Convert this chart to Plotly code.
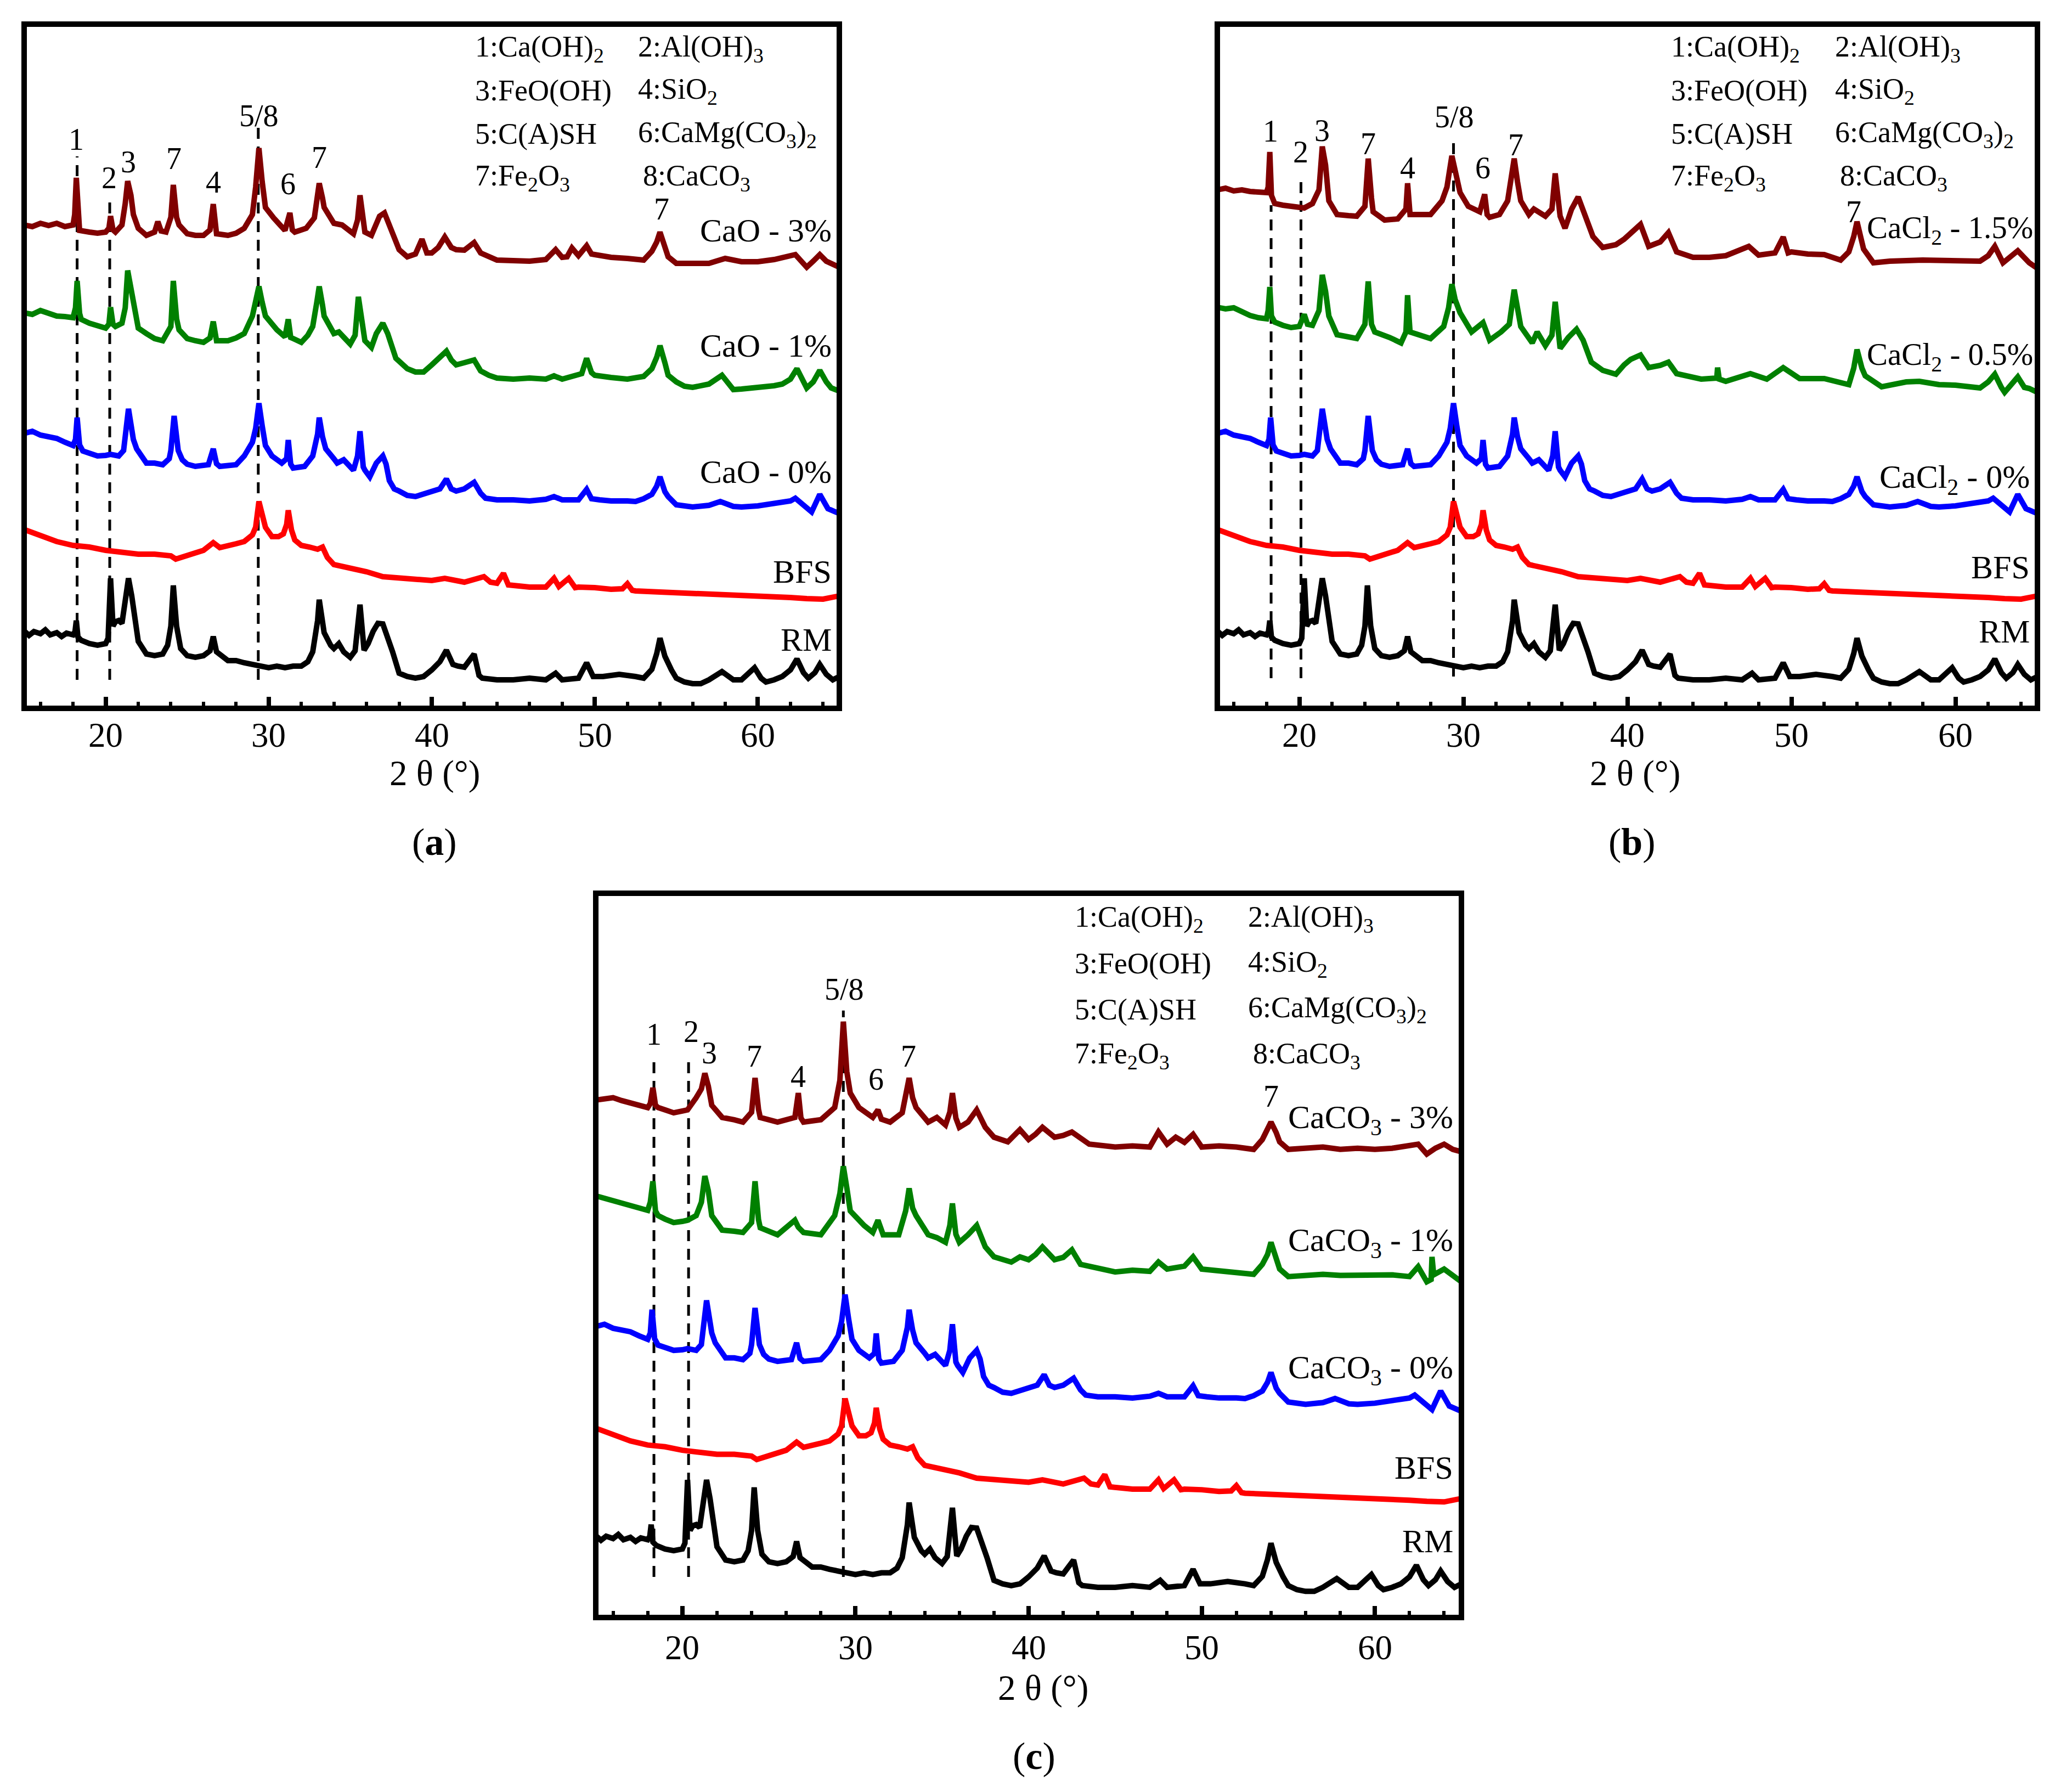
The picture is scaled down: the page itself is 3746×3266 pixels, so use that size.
import plotly.graph_objects as go

W, H = 3746, 3266

# 2θ (deg) / intensity (a.u., stacked as drawn)
RM = [(15.0, 141), (15.3, 133), (15.6, 140), (16.0, 136), (16.3, 143), (16.6, 134), (17.0, 138), (17.3, 131),
      (17.6, 137), (18.0, 134), (18.12, 140), (18.2, 160), (18.3, 130), (18.5, 124), (19.0, 118), (19.5, 115),
      (20.0, 118), (20.15, 128), (20.3, 237), (20.45, 150), (20.6, 158), (20.8, 160), (21.0, 155), (21.2, 190),
      (21.4, 237), (21.6, 205), (21.8, 160), (22.0, 122), (22.5, 99), (23.0, 96), (23.5, 99), (23.8, 115),
      (24.0, 150), (24.15, 224), (24.35, 150), (24.6, 109), (25.0, 96), (25.5, 93), (26.0, 96), (26.4, 105),
      (26.6, 131), (26.8, 103), (27.5, 87), (28.0, 87), (28.5, 83), (29.0, 80), (29.5, 77), (30.0, 74),
      (30.5, 77), (31.0, 74), (31.5, 77), (32.0, 77), (32.4, 85), (32.7, 103), (33.0, 160), (33.1, 198),
      (33.4, 138), (33.8, 115), (34.0, 109), (34.3, 118), (34.6, 103), (35.0, 93), (35.3, 105), (35.6, 189),
      (35.85, 106), (36.1, 118), (36.4, 140), (36.7, 155), (37.0, 154), (37.3, 130), (37.6, 103), (38.0, 64),
      (38.5, 58), (39.0, 55), (39.5, 58), (40.0, 70), (40.5, 85), (40.9, 106), (41.3, 80), (41.6, 77),
      (42.0, 75), (42.6, 99), (42.9, 60), (43.1, 55), (44.0, 52), (45.0, 52), (46.0, 55), (47.0, 52),
      (47.6, 64), (48.0, 52), (49.0, 55), (49.5, 83), (49.9, 58), (50.5, 58), (51.5, 62), (52.5, 58),
      (53.0, 55), (53.5, 71), (53.8, 100), (54.0, 128), (54.3, 95), (54.7, 70), (55.0, 55), (55.5, 48),
      (56.0, 45), (56.5, 45), (57.0, 52), (57.8, 67), (58.5, 52), (59.0, 52), (59.8, 74), (60.2, 55),
      (60.5, 48), (61.0, 52), (61.5, 58), (62.0, 70), (62.4, 90), (62.8, 65), (63.1, 55), (63.5, 65),
      (63.8, 80), (64.2, 62), (64.6, 52), (65.0, 58)]

BFS = [(15.0, 326), (16.0, 316), (17.0, 304), (18.0, 297), (19.0, 294), (20.0, 288), (21.0, 284), (22.0, 281),
       (23.0, 281), (24.0, 278), (24.3, 272), (25.0, 278), (26.0, 288), (26.6, 302), (27.0, 293), (28.0, 300),
       (28.5, 304), (29.0, 316), (29.2, 330), (29.4, 377), (29.6, 350), (29.8, 330), (30.2, 313), (30.6, 313),
       (30.9, 318), (31.1, 335), (31.2, 361), (31.4, 325), (31.6, 307), (32.0, 297), (32.5, 294), (33.0, 290),
       (33.3, 294), (33.6, 275), (34.0, 262), (35.0, 256), (36.0, 249), (37.0, 240), (38.0, 237), (39.0, 236),
       (40.0, 233), (40.8, 237), (41.5, 232), (42.0, 230), (43.2, 240), (43.6, 230), (44.0, 228), (44.4, 246),
       (44.7, 225), (45.0, 224), (46.0, 221), (47.0, 221), (47.5, 237), (47.8, 222), (48.4, 237), (48.8, 220),
       (49.0, 221), (50.0, 220), (51.0, 217), (51.7, 218), (52.0, 227), (52.3, 215), (52.5, 214), (54.0, 212),
       (55.0, 211), (57.0, 208), (60.0, 205), (62.0, 202), (63.0, 200), (64.0, 199), (65.0, 205)]

BLANK = [(15.0, 501), (15.5, 505), (16.0, 498), (16.5, 495), (17.0, 492), (17.5, 485), (18.0, 479), (18.15, 490),
         (18.25, 530), (18.4, 480), (18.6, 469), (19.0, 465), (19.5, 460), (20.0, 461), (20.3, 463), (20.8, 460),
         (21.1, 470), (21.4, 546), (21.7, 490), (21.9, 473), (22.5, 447), (23.0, 447), (23.5, 444), (23.9, 455),
         (24.0, 470), (24.2, 533), (24.45, 470), (24.7, 453), (25.0, 445), (25.5, 441), (26.0, 443), (26.3, 444),
         (26.6, 473), (26.8, 446), (27.0, 441), (28.0, 444), (28.5, 460), (29.0, 485), (29.2, 510), (29.4, 556),
         (29.6, 515), (29.8, 479), (30.2, 460), (30.8, 447), (31.1, 455), (31.2, 489), (31.35, 445), (31.5, 438),
         (32.2, 441), (32.7, 460), (33.0, 500), (33.1, 530), (33.3, 495), (33.5, 473), (34.0, 455), (34.2, 447),
         (34.6, 453), (35.0, 440), (35.2, 434), (35.45, 460), (35.6, 505), (35.8, 440), (35.9, 434), (36.2, 422),
         (36.6, 447), (37.0, 460), (37.2, 445), (37.4, 415), (37.7, 400), (38.0, 396), (38.5, 388), (39.0, 386),
         (39.5, 390), (40.0, 396), (40.5, 400), (40.9, 418), (41.2, 400), (41.5, 396), (42.0, 400), (42.6, 412),
         (43.0, 392), (43.3, 383), (44.0, 380), (45.0, 380), (46.0, 378), (47.0, 381), (47.5, 386), (48.0, 380),
         (49.0, 380), (49.5, 399), (49.8, 382), (50.3, 380), (51.0, 378), (52.0, 378), (52.5, 377), (53.0, 382),
         (53.5, 390), (53.8, 405), (54.0, 422), (54.3, 395), (54.5, 386), (55.0, 371), (56.0, 367), (57.0, 370),
         (57.7, 377), (58.5, 368), (59.0, 367), (60.0, 369), (61.0, 374), (62.0, 378), (62.3, 383), (62.7, 374),
         (63.0, 365), (63.3, 358), (63.8, 390), (64.3, 364), (65.0, 355)]

CAO_1 = [(15.0, 721), (15.5, 718), (16.0, 725), (16.5, 720), (17.0, 715), (17.5, 714), (18.0, 712), (18.15, 730),
         (18.25, 779), (18.4, 720), (18.5, 709), (19.0, 702), (19.5, 698), (20.0, 693), (20.2, 700), (20.3, 731),
         (20.45, 700), (20.6, 696), (21.0, 702), (21.2, 730), (21.35, 798), (21.6, 760), (21.8, 725), (22.0, 693),
         (22.5, 683), (23.0, 674), (23.5, 670), (23.9, 690), (24.0, 696), (24.15, 779), (24.35, 710), (24.5, 690),
         (25.0, 674), (25.5, 670), (26.0, 667), (26.4, 675), (26.6, 705), (26.8, 670), (27.5, 670), (28.0, 675),
         (28.5, 683), (29.0, 715), (29.2, 740), (29.4, 769), (29.6, 740), (29.8, 715), (30.5, 690), (31.0, 677),
         (31.2, 709), (31.35, 676), (31.5, 674), (32.0, 667), (32.4, 680), (32.7, 696), (32.95, 740), (33.1, 769),
         (33.3, 735), (33.4, 715), (34.0, 683), (34.3, 686), (35.0, 664), (35.3, 680), (35.5, 750), (35.75, 690),
         (35.9, 670), (36.3, 658), (36.6, 683), (37.0, 702), (37.3, 683), (37.8, 638), (38.5, 619), (39.0, 613),
         (39.5, 613), (40.0, 626), (40.5, 640), (40.9, 651), (41.2, 635), (41.5, 626), (42.0, 630), (42.6, 635),
         (43.0, 615), (43.5, 607), (44.0, 602), (45.0, 600), (46.0, 602), (47.0, 600), (47.5, 606), (48.0, 600),
         (49.2, 610), (49.5, 638), (49.8, 612), (50.0, 607), (51.0, 603), (52.0, 600), (53.0, 605), (53.5, 619),
         (53.8, 640), (54.0, 661), (54.3, 630), (54.5, 607), (55.0, 595), (55.5, 587), (56.0, 585), (57.0, 591),
         (57.8, 607), (58.5, 581), (59.0, 582), (60.0, 584), (61.0, 588), (61.5, 591), (62.0, 600), (62.4, 619),
         (62.8, 595), (63.0, 584), (63.4, 595), (63.8, 616), (64.2, 595), (64.5, 584), (65.0, 578)]

CAO_3 = [(15.0, 881), (15.5, 878), (16.0, 884), (16.5, 880), (17.0, 884), (17.5, 878), (18.0, 881), (18.1, 900),
         (18.2, 967), (18.3, 890), (18.4, 871), (19.0, 868), (19.5, 866), (20.0, 868), (20.2, 875), (20.3, 897),
         (20.45, 872), (20.6, 868), (21.0, 881), (21.2, 920), (21.35, 961), (21.55, 935), (21.7, 900), (22.0, 875),
         (22.5, 862), (23.0, 868), (23.2, 887), (23.4, 870), (23.7, 868), (24.0, 895), (24.15, 954), (24.35, 895),
         (24.5, 881), (25.0, 865), (25.5, 862), (26.0, 862), (26.4, 872), (26.6, 919), (26.8, 865), (27.5, 862),
         (28.0, 866), (28.5, 875), (29.0, 900), (29.2, 950), (29.4, 1021), (29.6, 960), (29.8, 913), (30.3, 894),
         (31.0, 871), (31.3, 903), (31.45, 872), (31.6, 868), (32.3, 875), (32.8, 894), (33.0, 930), (33.1, 957),
         (33.3, 930), (33.4, 913), (34.0, 884), (34.5, 881), (35.2, 865), (35.45, 890), (35.6, 935), (35.8, 880),
         (35.9, 868), (36.3, 862), (36.8, 897), (37.1, 903), (37.5, 875), (38.0, 836), (38.5, 823), (39.0, 828),
         (39.4, 855), (39.7, 830), (40.0, 830), (40.4, 840), (40.8, 859), (41.2, 840), (41.5, 836), (42.0, 835),
         (42.6, 849), (43.0, 830), (44.0, 817), (45.0, 817), (46.0, 815), (47.0, 818), (47.6, 836), (48.0, 822),
         (48.3, 823), (48.6, 839), (49.0, 825), (49.5, 843), (49.8, 828), (50.0, 827), (51.0, 822), (52.0, 820),
         (53.0, 817), (53.5, 833), (53.8, 850), (54.0, 868), (54.3, 845), (54.5, 823), (55.0, 811), (56.0, 810),
         (57.0, 811), (58.0, 820), (59.0, 814), (60.0, 814), (61.0, 818), (62.3, 827), (62.7, 815), (63.0, 804),
         (63.4, 815), (63.8, 827), (64.2, 815), (64.5, 811), (65.0, 804)]

CACL2_05 = [(15.0, 731), (15.5, 728), (16.0, 730), (16.5, 722), (17.0, 716), (17.5, 712), (18.0, 710), (18.1, 725),
            (18.2, 768), (18.3, 715), (18.5, 704), (19.0, 698), (19.5, 694), (20.0, 696), (20.3, 718), (20.5, 700),
            (20.8, 698), (21.2, 725), (21.4, 790), (21.6, 760), (21.8, 715), (22.3, 681), (23.0, 676), (23.5, 674),
            (24.0, 700), (24.2, 778), (24.4, 700), (24.6, 686), (25.5, 676), (26.2, 666), (26.5, 686), (26.6, 753),
            (26.75, 686), (28.0, 674), (28.8, 696), (29.1, 730), (29.3, 773), (29.5, 745), (29.8, 721), (30.5, 686),
            (31.2, 703), (31.6, 671), (32.3, 686), (32.8, 700), (33.1, 763), (33.3, 725), (33.5, 696), (34.2, 666),
            (34.5, 686), (35.0, 661), (35.4, 680), (35.6, 741), (35.8, 675), (35.9, 656), (36.4, 676), (36.9, 691),
            (37.3, 671), (37.8, 631), (38.5, 616), (39.3, 609), (39.8, 626), (40.2, 636), (40.8, 644), (41.3, 621),
            (42.0, 625), (42.5, 631), (43.0, 610), (43.5, 606), (44.5, 600), (45.45, 602), (45.5, 621), (45.6, 600),
            (46.0, 596), (47.5, 610), (48.5, 600), (49.5, 621), (50.5, 601), (52.0, 601), (53.0, 592), (53.5, 590),
            (53.8, 620), (54.0, 654), (54.3, 620), (54.5, 606), (55.5, 586), (57.0, 595), (57.8, 596), (59.0, 590),
            (60.0, 589), (61.5, 584), (62.0, 595), (62.4, 609), (62.8, 585), (63.0, 576), (63.4, 590), (63.8, 604),
            (64.2, 585), (64.5, 583), (65.0, 576)]

CACL2_15 = [(15.0, 945), (15.5, 948), (16.0, 943), (16.5, 945), (17.0, 942), (17.5, 940), (18.0, 940), (18.1, 950),
            (18.2, 1014), (18.3, 935), (18.5, 920), (19.0, 917), (19.5, 915), (20.0, 913), (20.3, 912), (20.8, 920),
            (21.2, 945), (21.4, 1024), (21.6, 990), (21.8, 925), (22.3, 900), (23.0, 898), (23.5, 897), (24.0, 915),
            (24.2, 1002), (24.4, 930), (24.5, 905), (25.2, 890), (26.0, 892), (26.5, 910), (26.6, 957), (26.75, 900),
            (28.0, 900), (28.7, 925), (29.0, 950), (29.3, 1007), (29.5, 980), (29.8, 940), (30.3, 915), (31.0, 905),
            (31.3, 937), (31.45, 900), (31.6, 895), (32.2, 900), (32.7, 925), (32.95, 970), (33.1, 1002), (33.3, 960),
            (33.5, 925), (34.0, 900), (34.3, 910), (35.0, 897), (35.4, 910), (35.6, 975), (35.8, 910), (35.9, 897),
            (36.2, 875), (36.6, 910), (37.0, 932), (37.4, 900), (37.9, 860), (38.5, 840), (39.3, 845), (39.8, 855),
            (40.2, 865), (40.8, 882), (41.3, 842), (42.0, 850), (42.5, 867), (43.0, 832), (44.0, 822), (45.0, 822),
            (46.0, 825), (47.4, 842), (48.0, 826), (49.0, 830), (49.5, 859), (49.8, 830), (50.0, 832), (51.0, 828),
            (52.0, 827), (53.0, 817), (53.5, 832), (53.8, 860), (54.0, 887), (54.3, 850), (54.4, 837), (55.0, 812),
            (56.0, 815), (58.0, 817), (60.0, 815), (61.5, 815), (62.0, 825), (62.4, 842), (62.9, 812), (63.4, 825),
            (63.8, 834), (64.5, 812), (65.0, 802)]

CACO3_1 = [(15.0, 726), (15.5, 722), (16.0, 718), (16.5, 714), (17.0, 709), (17.5, 706), (18.0, 701), (18.15, 715),
           (18.3, 751), (18.45, 700), (18.6, 692), (19.0, 686), (19.5, 680), (20.0, 682), (20.3, 684), (20.8, 692),
           (21.1, 715), (21.3, 760), (21.5, 735), (21.7, 692), (22.3, 667), (23.0, 665), (23.5, 663), (24.0, 680),
           (24.2, 751), (24.4, 685), (24.5, 671), (25.5, 659), (26.5, 684), (26.7, 672), (27.0, 663), (28.0, 659),
           (28.8, 692), (29.1, 730), (29.3, 777), (29.5, 740), (29.7, 700), (30.5, 675), (31.0, 663), (31.3, 684),
           (31.6, 659), (32.5, 659), (32.9, 700), (33.1, 739), (33.3, 705), (33.5, 692), (34.2, 659), (34.7, 654),
           (35.2, 646), (35.45, 675), (35.6, 713), (35.8, 660), (36.0, 646), (36.5, 659), (37.0, 675), (37.5, 638),
           (38.0, 621), (39.0, 612), (39.5, 621), (40.0, 616), (40.4, 625), (40.8, 638), (41.5, 616), (42.0, 620),
           (42.5, 633), (43.0, 608), (45.0, 595), (46.0, 598), (47.0, 596), (47.5, 612), (48.0, 600), (49.0, 605),
           (49.5, 621), (50.0, 600), (51.0, 597), (52.0, 595), (53.0, 591), (53.5, 608), (53.8, 625), (54.0, 646),
           (54.3, 620), (54.5, 600), (55.0, 587), (56.0, 590), (57.0, 591), (58.0, 589), (60.0, 591), (61.0, 590),
           (62.0, 587), (62.5, 604), (63.0, 578), (63.25, 582), (63.3, 621), (63.4, 590), (64.0, 600), (64.5, 590),
           (65.0, 578)]

CACO3_3 = [(15.0, 891), (15.5, 893), (16.0, 895), (16.5, 890), (17.0, 886), (17.5, 884), (18.0, 878), (18.15, 885),
           (18.3, 912), (18.45, 882), (18.6, 878), (19.0, 874), (19.5, 869), (20.0, 872), (20.3, 874), (20.8, 895),
           (21.1, 910), (21.3, 937), (21.5, 915), (21.7, 882), (22.3, 861), (23.0, 857), (23.5, 853), (24.0, 870),
           (24.2, 929), (24.4, 875), (24.5, 861), (25.5, 853), (26.5, 861), (26.7, 903), (26.85, 860), (27.0, 853),
           (28.0, 857), (28.8, 878), (29.1, 925), (29.3, 1026), (29.5, 940), (29.7, 903), (30.2, 878), (31.0, 861),
           (31.3, 874), (31.5, 858), (32.0, 853), (32.7, 869), (32.95, 905), (33.1, 929), (33.3, 895), (33.5, 878),
           (34.2, 853), (34.7, 861), (35.2, 848), (35.45, 870), (35.6, 903), (35.8, 860), (36.0, 844), (36.5, 853),
           (37.0, 874), (37.5, 844), (38.0, 827), (38.8, 819), (39.5, 840), (40.0, 823), (40.4, 832), (40.8, 844),
           (41.5, 827), (42.0, 830), (42.5, 836), (43.5, 815), (45.0, 810), (46.0, 812), (47.0, 810), (47.5, 836),
           (48.0, 815), (48.5, 827), (49.0, 818), (49.5, 832), (50.0, 810), (51.0, 812), (52.0, 810), (53.0, 806),
           (53.5, 823), (53.8, 840), (54.0, 853), (54.3, 835), (54.5, 819), (55.0, 806), (56.0, 808), (57.0, 810),
           (58.0, 806), (59.0, 808), (60.0, 806), (61.0, 808), (62.5, 815), (63.0, 798), (63.5, 808), (64.0, 815),
           (64.5, 806), (65.0, 802)]

TICKS = [20, 30, 40, 50, 60]

PHASES = [("1:Ca(OH)<sub>2</sub>", "2:Al(OH)<sub>3</sub>"),
          ("3:FeO(OH)", "4:SiO<sub>2</sub>"),
          ("5:C(A)SH", "6:CaMg(CO<sub>3</sub>)<sub>2</sub>"),
          ("7:Fe<sub>2</sub>O<sub>3</sub>", "8:CaCO<sub>3</sub>")]

PEAKS_A = [("1", 18.2, 1037), ("2", 20.2, 967), ("3", 21.4, 996), ("7", 24.2, 1002), ("4", 26.6, 959),
           ("5/8", 29.4, 1080), ("6", 31.2, 956), ("7", 33.1, 1004), ("7", 54.1, 910)]
PEAKS_B = [("1", 18.25, 1052), ("2", 20.1, 1014), ("3", 21.4, 1053), ("7", 24.2, 1029), ("4", 26.6, 985),
           ("5/8", 29.45, 1078), ("6", 31.2, 985), ("7", 33.2, 1027), ("7", 53.8, 905)]
PEAKS_C = [("1", 18.35, 1004), ("2", 20.5, 1009), ("3", 21.55, 972), ("7", 24.15, 966), ("4", 26.7, 931),
           ("5/8", 29.35, 1082), ("6", 31.2, 927), ("7", 33.05, 966), ("7", 54.0, 897)]

# reference lines: (2θ, top, bottom)
MARKS_A = [(18.25, 1006, 52), (20.25, 935, 52), (29.36, 1063, 52)]
MARKS_B = [(18.28, 917, 55), (20.1, 965, 55), (29.4, 1037, 58)]
MARKS_C = [(18.36, 958, 70), (20.36, 958, 70), (29.3, 1045, 70)]

NAMES_A = [("CaO - 3%", 871), ("CaO - 1%", 661), ("CaO - 0%", 431), ("BFS", 249), ("RM", 125)]
NAMES_B = [("CaCl<sub>2</sub> - 1.5%", 872), ("CaCl<sub>2</sub> - 0.5%", 641), ("CaCl<sub>2</sub> - 0%", 418),
           ("BFS", 257), ("RM", 140)]
NAMES_C = [("CaCO<sub>3</sub> - 3%", 857), ("CaCO<sub>3</sub> - 1%", 646), ("CaCO<sub>3</sub> - 0%", 427),
           ("BFS", 258), ("RM", 131)]

COLORS = ["#800000", "#008000", "#0000ff", "#ff0000", "#000000"]
FONT = "Times New Roman, Liberation Serif, serif"
YMAX = 1247

panels = [
    dict(box=(36, 36, 1522, 1283), curves=[CAO_3, CAO_1, BLANK, BFS, RM], names=NAMES_A, peaks=PEAKS_A,
         marks=MARKS_A, ticky=1332, title=(784, 1401), letter="a", letter_pos=(784, 1526)),
    dict(box=(2211, 36, 3706, 1283), curves=[CACL2_15, CACL2_05, BLANK, BFS, RM], names=NAMES_B, peaks=PEAKS_B,
         marks=MARKS_B, ticky=1332, title=(2972, 1401), letter="b", letter_pos=(2967, 1526)),
    dict(box=(1078, 1620, 2656, 2940), curves=[CACO3_3, CACO3_1, BLANK, BFS, RM], names=NAMES_C, peaks=PEAKS_C,
         marks=MARKS_C, ticky=2995, title=(1893, 3068), letter="c", letter_pos=(1877, 3192)),
]

fig = go.Figure()
annotations = []
shapes = []
layout = {}

for i, p in enumerate(panels):
    n = "" if i == 0 else str(i + 1)
    xa, ya = "x" + n, "y" + n
    x0, y0, x1, y1 = p["box"]
    lw = 10
    half = lw / 2
    ppd = (x1 - x0) / 50.0
    ppu = (y1 - y0) / YMAX
    xlo, xhi = 15 + half / ppd, 65 - half / ppd
    layout["xaxis" + n] = dict(
        domain=[(x0 + half) / W, (x1 - half) / W], anchor=ya,
        range=[xlo, xhi],
        showline=True, linewidth=lw, linecolor="black", mirror=True,
        showgrid=False, zeroline=False, showticklabels=False,
        ticks="inside", tickmode="array", tickvals=TICKS, ticklen=16, tickwidth=8, tickcolor="black",
        minor=dict(ticks="inside", dtick=2, tick0=0, ticklen=7, tickwidth=6, tickcolor="black", showgrid=False),
    )
    layout["yaxis" + n] = dict(
        domain=[1 - (y1 - half) / H, 1 - (y0 + half) / H], anchor=xa,
        range=[half / ppu, YMAX - half / ppu],
        showline=True, linewidth=lw, linecolor="black", mirror=True,
        showgrid=False, zeroline=False, showticklabels=False, ticks="",
    )

    for data, color in zip(p["curves"], COLORS):
        fig.add_trace(go.Scatter(
            x=[d[0] for d in data], y=[d[1] for d in data], mode="lines",
            line=dict(color=color, width=10), xaxis=xa, yaxis=ya, hoverinfo="skip",
        ))

    for xv, top, bot in p["marks"]:
        shapes.append(dict(type="line", xref=xa, yref=ya, x0=xv, x1=xv, y0=bot, y1=top,
                           line=dict(color="black", width=5, dash="20px,14px"), layer="below"))

    # tick labels placed on the axis scale, just under the frame
    for t in TICKS:
        annotations.append(dict(text=str(t), x=t, y=1 - p["ticky"] / H, xref=xa, yref="paper",
                                showarrow=False, xanchor="center", yanchor="middle",
                                font=dict(family=FONT, size=63, color="black")))

    for txt, xv, yv in p["peaks"]:
        annotations.append(dict(text=txt, x=xv, y=yv, xref=xa, yref=ya, showarrow=False,
                                xanchor="center", yanchor="middle",
                                font=dict(family=FONT, size=56, color="black")))

    rows_y = [1203, 1126, 1047, 968]
    for (left, right), yv in zip(PHASES, rows_y):
        annotations.append(dict(text=left, x=42.6, y=yv, xref=xa, yref=ya, showarrow=False,
                                xanchor="left", yanchor="middle",
                                font=dict(family=FONT, size=54, color="black")))
        annotations.append(dict(text=right, x=52.9 if right.startswith("8") else 52.6, y=yv,
                                xref=xa, yref=ya, showarrow=False, xanchor="left", yanchor="middle",
                                font=dict(family=FONT, size=54, color="black")))

    for txt, yv in p["names"]:
        wide = "1.5" in txt or "0.5" in txt
        annotations.append(dict(text=txt, x=xhi - 0.02 if wide else 64.6, y=yv,
                                xref=xa, yref=ya, showarrow=False, xanchor="right", yanchor="middle",
                                font=dict(family=FONT, size=57 if wide else 60, color="black")))

    tx, ty = p["title"]
    annotations.append(dict(text="2 θ (°)", x=tx / W, y=1 - ty / H, xref="paper", yref="paper",
                            showarrow=False, xanchor="center", yanchor="middle",
                            font=dict(family=FONT, size=65, color="black")))
    lx, ly = p["letter_pos"]
    annotations.append(dict(text="(<b>%s</b>)" % p["letter"], x=lx / W, y=1 - ly / H, xref="paper",
                            yref="paper", showarrow=False, xanchor="center", yanchor="middle",
                            font=dict(family=FONT, size=70, color="black")))

fig.update_layout(
    width=W, height=H, autosize=False,
    margin=dict(l=0, r=0, t=0, b=0),
    paper_bgcolor="white", plot_bgcolor="white",
    font=dict(family=FONT, size=56, color="black"),
    showlegend=False,
    annotations=annotations, shapes=shapes,
    **layout,
)

fig.write_html("out.html")
